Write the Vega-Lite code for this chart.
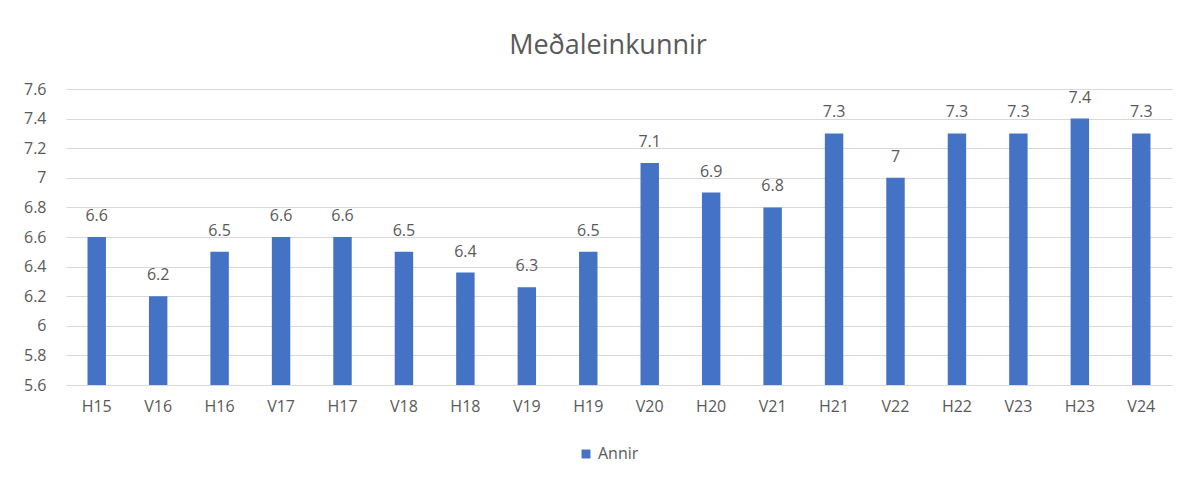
{
  "$schema": "https://vega.github.io/schema/vega-lite/v6.json",
  "width": 1106,
  "height": 296,
  "autosize": {"type": "none"},
  "padding": {"left": 66, "top": 89, "right": 29, "bottom": 100},
  "background": "white",
  "title": {
    "text": "Meðaleinkunnir",
    "fontSize": 27,
    "font": "Open Sans",
    "fontWeight": "normal",
    "color": "#595959",
    "offset": 21,
    "dx": -11
  },
  "data": {
    "values": [
      {"term": "H15", "score": 6.6},
      {"term": "V16", "score": 6.2},
      {"term": "H16", "score": 6.5},
      {"term": "V17", "score": 6.6},
      {"term": "H17", "score": 6.6},
      {"term": "V18", "score": 6.5},
      {"term": "H18", "score": 6.36},
      {"term": "V19", "score": 6.26},
      {"term": "H19", "score": 6.5},
      {"term": "V20", "score": 7.1},
      {"term": "H20", "score": 6.9},
      {"term": "V21", "score": 6.8},
      {"term": "H21", "score": 7.3},
      {"term": "V22", "score": 7.0},
      {"term": "H22", "score": 7.3},
      {"term": "V23", "score": 7.3},
      {"term": "H23", "score": 7.4},
      {"term": "V24", "score": 7.3}
    ]
  },
  "encoding": {
    "x": {
      "field": "term",
      "type": "nominal",
      "sort": null,
      "title": null,
      "scale": {"paddingInner": 0.7, "paddingOuter": 0.35},
      "axis": {
        "labelAngle": 0,
        "labelFont": "Open Sans",
        "labelFontSize": 16,
        "labelColor": "#595959",
        "labelPadding": 13,
        "ticks": false,
        "domainColor": "#D9D9D9",
        "grid": false
      }
    },
    "y": {
      "field": "score",
      "type": "quantitative",
      "title": null,
      "scale": {"domain": [5.6, 7.6], "zero": false, "nice": false},
      "axis": {
        "values": [5.6, 5.8, 6, 6.2, 6.4, 6.6, 6.8, 7, 7.2, 7.4, 7.6],
        "format": ".2~r",
        "labelFont": "Open Sans",
        "labelFontSize": 16,
        "labelColor": "#595959",
        "labelPadding": 20,
        "ticks": false,
        "domain": false,
        "gridColor": "#D9D9D9",
        "gridWidth": 1
      }
    }
  },
  "layer": [
    {
      "mark": {"type": "bar"},
      "encoding": {
        "y2": {"datum": 5.6},
        "color": {
          "datum": "Annir",
          "type": "nominal",
          "scale": {"range": ["#4472C4"]},
          "legend": {
            "title": null,
            "orient": "none",
            "legendX": 512,
            "legendY": 357,
            "symbolType": "square",
            "symbolSize": 80,
            "symbolStrokeWidth": 0,
            "labelFont": "Open Sans",
            "labelFontSize": 16,
            "labelColor": "#595959",
            "labelOffset": 4
          }
        }
      }
    },
    {
      "mark": {
        "type": "text",
        "baseline": "alphabetic",
        "dy": -16,
        "font": "Open Sans",
        "fontSize": 16,
        "color": "#595959"
      },
      "encoding": {
        "text": {"field": "score", "type": "quantitative", "format": ".2~r"}
      }
    }
  ],
  "config": {"view": {"stroke": null}}
}
